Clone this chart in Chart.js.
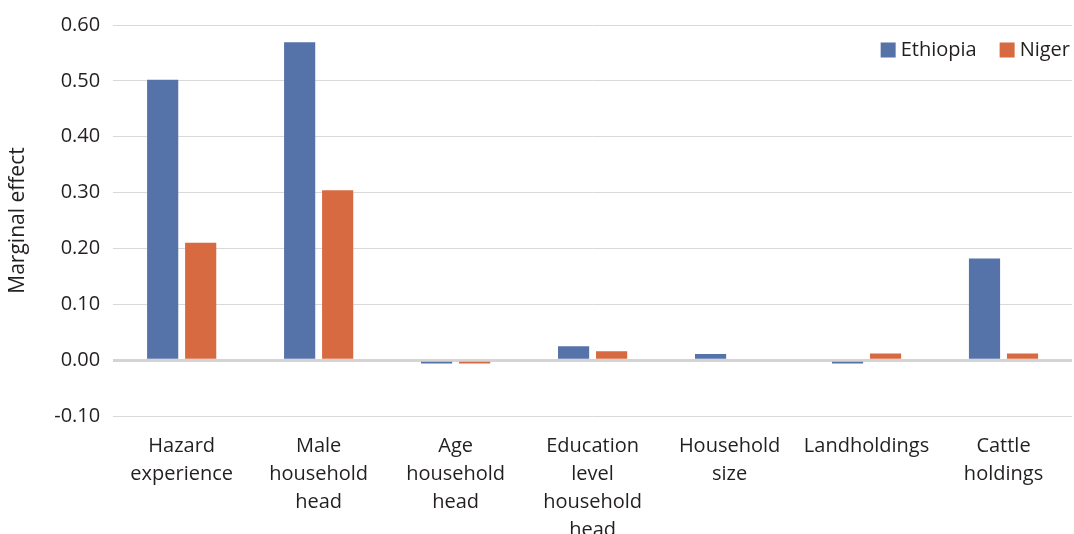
<!DOCTYPE html>
<html lang="en">
<head>
    <meta charset="UTF-8">
    <title>Marginal effect</title>
    <script src="https://cdn.jsdelivr.net/npm/chart.js"></script>
    <style>
        html, body { margin: 0; padding: 0; background: #fff; }
        .wrap { width: 1074px; height: 534px; }
    </style>
</head>
<body>
    <div class="wrap">
        <canvas id="effectChart" width="1074" height="534"></canvas>
    </div>

    <script>
        // Data
        const categories = [
            ['Hazard', 'experience'],
            ['Male', 'household', 'head'],
            ['Age', 'household', 'head'],
            ['Education', 'level', 'household', 'head'],
            ['Household', 'size'],
            ['Landholdings'],
            ['Cattle', 'holdings']
        ];
        const ethiopia = [0.502, 0.569, -0.006, 0.025, 0.011, -0.006, 0.182];
        const niger = [0.210, 0.304, -0.006, 0.016, 0.000, 0.012, 0.012];
        const yTicks = [-0.10, 0.00, 0.10, 0.20, 0.30, 0.40, 0.50, 0.60];

        const font = "'Open Sans', 'DejaVu Sans', sans-serif";
        Chart.defaults.font.family = font;
        Chart.defaults.color = '#231f20';

        // legend drawn inside the plot, top right
        const insideLegend = {
            id: 'insideLegend',
            afterDraw(chart) {
                const ctx = chart.ctx;
                const area = chart.chartArea;
                const sets = chart.data.datasets;
                ctx.save();
                ctx.font = '20px ' + font;
                ctx.textBaseline = 'middle';
                const box = 15, gap = 5, spacing = 23;
                let x = area.right - 2;
                const y = area.top + 25;
                for (let i = sets.length - 1; i >= 0; i--) {
                    const w = ctx.measureText(sets[i].label).width;
                    x -= w;
                    ctx.fillStyle = '#231f20';
                    ctx.fillText(sets[i].label, x, y);
                    x -= gap + box;
                    ctx.fillStyle = sets[i].backgroundColor;
                    ctx.fillRect(x, y - box / 2, box, box);
                    x -= spacing;
                }
                ctx.restore();
            }
        };

        const effectChart = new Chart(document.getElementById('effectChart'), {
            type: 'bar',
            data: {
                labels: categories,
                datasets: [
                    {
                        label: 'Ethiopia',
                        data: ethiopia,
                        backgroundColor: '#5673a9',
                        categoryPercentage: 0.555,
                        barPercentage: 0.82
                    },
                    {
                        label: 'Niger',
                        data: niger,
                        backgroundColor: '#d86a42',
                        categoryPercentage: 0.555,
                        barPercentage: 0.82
                    }
                ]
            },
            options: {
                responsive: false,
                animation: false,
                layout: { padding: { top: 13, right: 2, left: 1, bottom: 0 } },
                plugins: {
                    legend: { display: false },
                    tooltip: { enabled: false }
                },
                scales: {
                    x: {
                        grid: { display: false },
                        border: { display: false },
                        // the last label runs off the bottom, as in the original
                        afterFit: axis => { axis.height = 118; },
                        ticks: {
                            font: { size: 20, lineHeight: 1.4 },
                            maxRotation: 0,
                            autoSkip: false,
                            padding: 8
                        }
                    },
                    y: {
                        min: -0.1,
                        max: 0.6,
                        afterBuildTicks: axis => {
                            axis.ticks = yTicks.map(v => ({ value: v }));
                        },
                        border: { display: false },
                        grid: {
                            color: ctx => ctx.tick && ctx.tick.value === 0 ? '#d4d4d4' : '#d9d9d9',
                            lineWidth: ctx => ctx.tick && ctx.tick.value === 0 ? 3 : 1,
                            drawTicks: false
                        },
                        ticks: {
                            font: { size: 20 },
                            padding: 13,
                            callback: v => v.toFixed(2)
                        },
                        title: {
                            display: true,
                            text: 'Marginal effect',
                            font: { size: 21 },
                            padding: { bottom: 11 }
                        }
                    }
                }
            },
            plugins: [insideLegend]
        });
    </script>
</body>
</html>
